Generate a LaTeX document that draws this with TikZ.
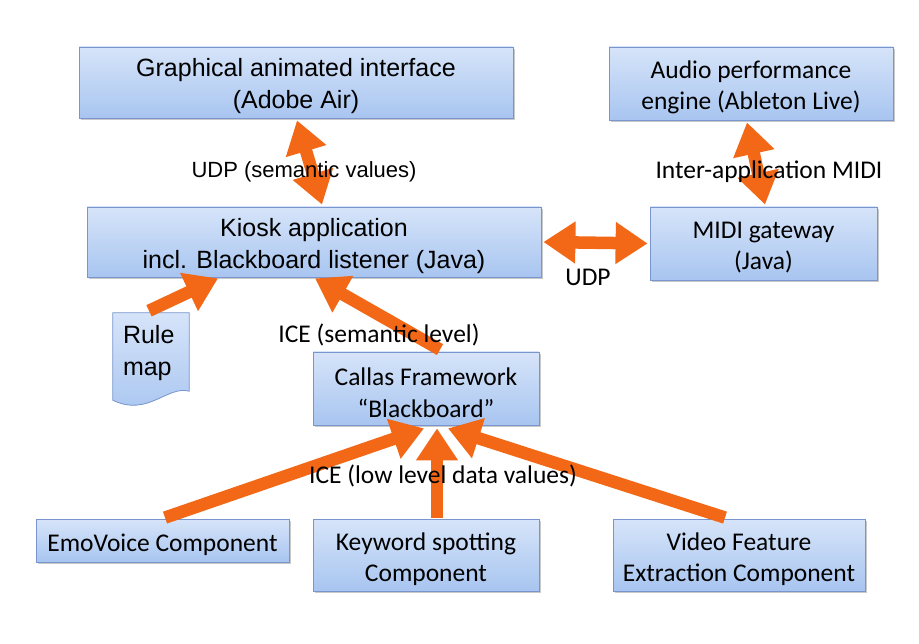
\documentclass[tikz,border=0pt]{standalone}
\usepackage{fontspec}
\setmainfont{Liberation Sans}
\newfontfamily\calib{Carlito}
\usetikzlibrary{arrows.meta,shadows,calc}
\definecolor{arrorange}{RGB}{242,104,22}
\definecolor{boxtop}{RGB}{214,228,249}
\definecolor{boxbot}{RGB}{168,197,240}
\definecolor{boxline}{RGB}{120,150,205}
\newcommand\mybox[6]{%
  \node[box, minimum width=#3, minimum height=#4] (#1) at (#2) {};
  \node[#5, align=center, inner sep=0] (#1t) at ([yshift=-4pt]#1.center) {#6};}
\begin{document}
\begin{tikzpicture}[x=1pt,y=1pt,
  box/.style={draw=boxline, line width=0.8pt, top color=boxtop, bottom color=boxbot,
    drop shadow={shadow xshift=1.5pt, shadow yshift=-2pt, opacity=0.35, fill=black!60},
    inner sep=2pt},
  fat/.style={draw=arrorange, line width=12.5pt,
    arrows={-Triangle[length=32pt,width=40pt,fill=arrorange]}},
  fatboth/.style={draw=arrorange, line width=12.5pt,
    arrows={Triangle[length=32pt,width=40pt,fill=arrorange]-Triangle[length=32pt,width=40pt,fill=arrorange]}},
  arial/.style={font=\fontsize{25}{32}\selectfont},
  cal/.style={font=\calib\fontsize{25.5}{31.5}\selectfont},
  lbl/.style={font=\calib\fontsize{25.5}{28}\selectfont, inner sep=1pt},
  lbla/.style={font=\fontsize{22}{26}\selectfont, inner sep=1pt}
]
\useasboundingbox[fill=white] (0,0) rectangle (919,-644);

% boxes
\mybox{g}{296,-82.5}{434}{71}{arial}{Graphical animated interface\\(Adobe Air)}
\mybox{a}{751,-83.5}{284}{73}{cal}{Audio performance\\engine (Ableton Live)}
\mybox{k}{314,-242}{454}{70}{arial}{Kiosk application\\incl. Blackboard listener (Java)}
\mybox{m}{763.5,-243.5}{227}{73}{cal}{MIDI gateway\\(Java)}
\mybox{c}{426,-388.5}{226}{73}{cal}{Callas Framework\\“Blackboard”}
\mybox{e}{162.5,-540.5}{253}{43}{cal}{EmoVoice Component}
\mybox{kw}{426,-555}{226}{72}{cal}{Keyword spotting\\Component}
\mybox{v}{739,-555}{252}{72}{cal}{Video Feature\\Extraction Component}

% rule map document
\node[minimum width=76, minimum height=84, inner sep=0] (r) at (151,-355) {};
\fill[black!60, opacity=0.35, xshift=1.5pt, yshift=-2pt]
  (r.north west) -- (r.north east) -- ($(r.south east)+(0,6)$)
  .. controls ($(r.south east)+(-22,12)$) and ($(r.south west)+(35,-20)$) .. ($(r.south west)+(0,-3)$) -- cycle;
\path[draw=boxline, line width=0.8pt, top color=boxtop, bottom color=boxbot]
  (r.north west) -- (r.north east) -- ($(r.south east)+(0,6)$)
  .. controls ($(r.south east)+(-22,12)$) and ($(r.south west)+(35,-20)$) .. ($(r.south west)+(0,-3)$) -- cycle;
\node[arial, align=left, anchor=north west, inner sep=0] (rt) at ($(r.north west)+(10,-12)$) {Rule\\map};

% arrows
\draw[fatboth] ([xshift=1pt,yshift=-2pt]g.south) -- ([xshift=8pt,yshift=2pt]k.north);
\draw[fatboth] ([xshift=-4pt,yshift=-2pt]a.south) -- ([xshift=1.5pt,yshift=2pt]m.north);
\draw[fatboth] ([xshift=2pt]k.east) -- ([xshift=-2pt]m.west);
\draw[fat] ([xshift=-2pt,yshift=2pt]r.north) -- ([xshift=-96pt,yshift=-1pt]k.south);
\draw[fat] ([xshift=14pt,yshift=2pt]c.north) -- ([xshift=1pt,yshift=-1pt]k.south);
\draw[fat] ([xshift=2.5pt,yshift=1pt]e.north) -- ([xshift=-2pt,yshift=-3pt]c.south);
\draw[fat] ([xshift=11pt,yshift=1pt]kw.north) -- ([xshift=11pt,yshift=-3pt]c.south);
\draw[fat] ([xshift=-14pt,yshift=1pt]v.north) -- ([xshift=22pt,yshift=-3pt]c.south);

% labels
\node[lbla] (l1) at (304,-172) {UDP (semantic values)};
\node[lbl] (l2) at (769,-172) {Inter-application MIDI};
\node[lbl] (l3) at (588,-277) {UDP};
\node[lbl] (l4) at (379,-335) {ICE (semantic level)};
\node[lbl] (l5) at (443,-476) {ICE (low level data values)};
\end{tikzpicture}
\end{document}
